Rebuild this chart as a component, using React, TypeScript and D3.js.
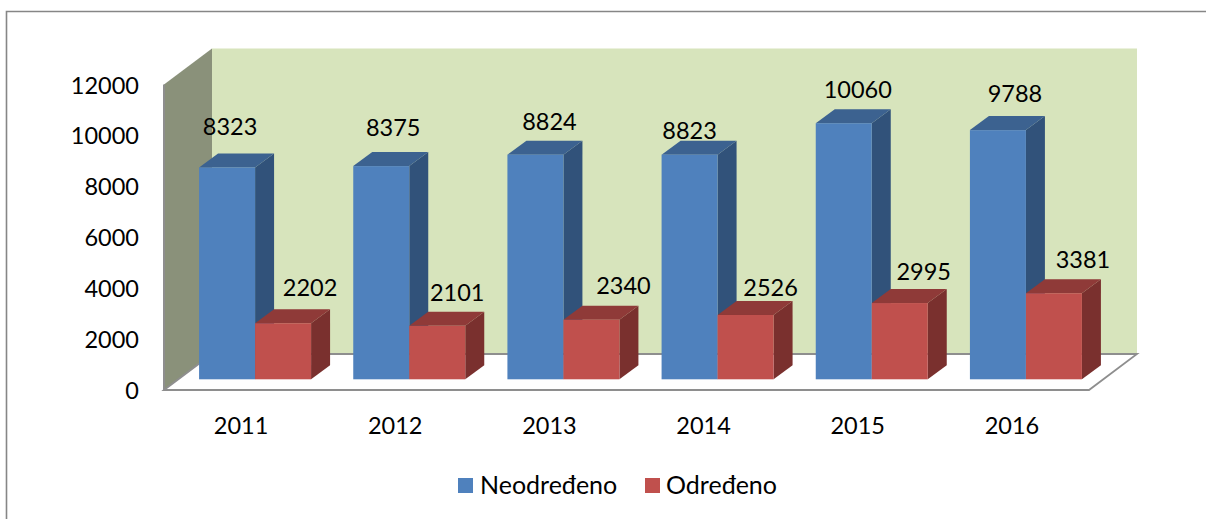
import React from "react";
import * as d3 from "d3";

const years = ["2011", "2012", "2013", "2014", "2015", "2016"];
const neodredeno = [8323, 8375, 8824, 8823, 10060, 9788];
const odredeno = [2202, 2101, 2340, 2526, 2995, 3381];
const yTicks = [0, 2000, 4000, 6000, 8000, 10000, 12000];
const seriesNames = ["Neodređeno", "Određeno"];

// Manual label placement seen in the picture, relative to each bar's front-top centre.
const blueNudge: [number, number][] = [[3, -41], [12, -39], [14, -34], [0, -25], [14, -34], [17, -37]];
const redNudge: [number, number][] = [[27, -36], [20, -34], [32, -35], [25, -28], [24, -32], [29, -34]];

const W = 1206, H = 519;
const FONT = "Lato, Carlito, Calibri, sans-serif";
const FS = 23.5;
const LEGEND_FS = 25;
const depth = { x: 48, y: 36 };
const barDepth = { x: 19, y: 14 };
const plot = { left: 164, right: 1089, top: 84.5, bottom: 390 };

const x = d3.scaleBand<string>().domain(years).range([plot.left, plot.right]);
const y = d3.scaleLinear().domain([0, 12000]).range([plot.bottom, plot.top]);
const inset = { x: 14, y: 10.7 };
const barW = 56;

const poly = (pts: [number, number][]) => {
  const p = d3.path();
  pts.forEach(([a, b], i) => (i ? p.lineTo(a, b) : p.moveTo(a, b)));
  p.closePath();
  return p.toString();
};

function Bar3D({ x0, value, front, side, top }: { x0: number; value: number; front: string; side: string; top: string }) {
  const yb = y(0) - inset.y;
  const yt = y(value) - inset.y;
  const x1 = x0 + barW;
  const { x: dx, y: dy } = barDepth;
  return (
    <g>
      <path d={poly([[x1, yt], [x1 + dx, yt - dy], [x1 + dx, yb - dy], [x1, yb]])} fill={side} />
      <path d={poly([[x0, yt], [x0 + dx, yt - dy], [x1 + dx, yt - dy], [x1, yt]])} fill={top} />
      <rect x={x0} y={yt} width={barW} height={yb - yt} fill={front} />
    </g>
  );
}

export default function App() {
  const { left, right, top, bottom } = plot;
  const { x: dx, y: dy } = depth;
  const barX = (yr: string) => x(yr)! + x.bandwidth() / 2 + inset.x - barW;
  const txt = { fontFamily: FONT, fontSize: FS, fill: "#000" };
  const legendTxt = { ...txt, fontSize: LEGEND_FS };
  return (
    <svg width={W} height={H} style={{ position: "absolute", left: 0, top: 0, display: "block" }}>
      <rect x={0} y={0} width={W} height={H} fill="#fff" />
      <path d={`M6.5 ${H}V11.5H${W}`} fill="none" stroke="#868686" strokeWidth={1.6} />

      {/* walls */}
      <rect x={left + dx} y={top - dy} width={right - left} height={bottom - top} fill="#D7E4BC" />
      <path d={poly([[left, top], [left + dx, top - dy], [left + dx, bottom - dy], [left, bottom]])} fill="#8A917A" />
      {/* floor */}
      <path
        d={poly([[left, bottom], [left + dx, bottom - dy], [right + dx, bottom - dy], [right, bottom]])}
        fill="#fff"
        stroke="#8E8E8E"
        strokeWidth={1.8}
      />
      <path d={`M${left} ${top}V${bottom}`} stroke="#8E8E8E" strokeWidth={2} />

      {years.map((yr, i) => (
        <g key={yr}>
          <Bar3D x0={barX(yr)} value={neodredeno[i]} front="#4F81BD" side="#31527A" top="#3C6290" />
          <Bar3D x0={barX(yr) + barW} value={odredeno[i]} front="#C0504D" side="#7A302E" top="#8F3A38" />
        </g>
      ))}

      {yTicks.map((t) => (
        <text key={t} x={139} y={y(t)} textAnchor="end" dominantBaseline="central" {...txt}>{t}</text>
      ))}
      {years.map((yr) => (
        <text key={yr} x={x(yr)! + x.bandwidth() / 2} y={425} textAnchor="middle" dominantBaseline="central" {...txt}>{yr}</text>
      ))}

      {years.map((yr, i) => (
        <g key={yr}>
          <text x={barX(yr) + barW / 2 + blueNudge[i][0]} y={y(neodredeno[i]) - inset.y + blueNudge[i][1]} textAnchor="middle" dominantBaseline="central" {...txt}>{neodredeno[i]}</text>
          <text x={barX(yr) + barW * 1.5 + redNudge[i][0]} y={y(odredeno[i]) - inset.y + redNudge[i][1]} textAnchor="middle" dominantBaseline="central" {...txt}>{odredeno[i]}</text>
        </g>
      ))}

      {/* legend */}
      <rect x={458} y={478} width={15} height={15} fill="#4F81BD" />
      <text x={480} y={484} dominantBaseline="central" {...legendTxt}>{seriesNames[0]}</text>
      <rect x={645} y={478} width={15} height={15} fill="#C0504D" />
      <text x={666} y={484} dominantBaseline="central" {...legendTxt}>{seriesNames[1]}</text>
    </svg>
  );
}
